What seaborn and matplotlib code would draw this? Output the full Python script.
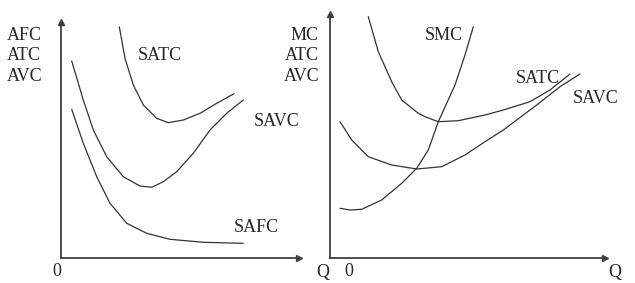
import numpy as np
import pandas as pd
import matplotlib
matplotlib.use("Agg")
import matplotlib.pyplot as plt
import seaborn as sns

# ---------------- data ----------------
# Left panel: short-run average cost curves
l_satc_q = [5.83, 6.4, 7.23, 8.23, 9.57, 10.73, 12.23, 13.9, 15.57, 17.3]
l_satc_c = [23.13, 19.97, 17.3, 15.3, 13.97, 13.53, 13.8, 14.47, 15.47, 16.43]
l_savc_q = [1.07, 2.23, 3.23, 4.57, 6.23, 7.9, 9.07, 10.23, 11.57, 13.23, 14.9, 16.57, 18.23]
l_savc_c = [19.7, 15.8, 12.8, 10.13, 8.13, 7.2, 7.07, 7.63, 8.63, 10.47, 12.8, 14.47, 15.8]
l_safc_q = [1.07, 2.23, 3.57, 4.9, 6.57, 8.57, 10.9, 14.23, 18.23]
l_safc_c = [14.87, 11.47, 8.13, 5.47, 3.47, 2.47, 1.87, 1.57, 1.47]

# Right panel: SMC, SATC, SAVC
r_smc_q = [1.0, 2.0, 3.17, 5.17, 7.17, 8.67, 9.83, 10.83, 11.5, 12.5, 13.5, 14.33]
r_smc_c = [4.97, 4.8, 4.87, 5.8, 7.47, 8.97, 10.8, 13.63, 15.1, 17.3, 20.3, 23.13]
r_satc_q = [3.83, 4.83, 6.17, 7.17, 8.83, 9.5, 10.83, 12.83, 15.5, 17.33, 20.0, 22.0, 24.0]
r_satc_c = [24.13, 20.63, 17.63, 15.8, 14.47, 14.13, 13.63, 13.73, 14.3, 14.8, 15.63, 16.8, 18.4]
r_savc_q = [1.0, 2.17, 3.83, 6.17, 8.67, 11.17, 13.5, 15.5, 17.33, 20.67, 23.0, 25.0]
r_savc_c = [13.63, 11.8, 10.13, 9.3, 8.9, 9.13, 10.3, 11.63, 12.8, 15.3, 17.13, 18.4]

left_ylabels = ["AFC", "ATC", "AVC"]
right_ylabels = ["MC", "ATC", "AVC"]

# ---------------- style ----------------
sns.set_theme(style="white")
plt.rcParams["font.family"] = ["Liberation Serif", "DejaVu Serif"]
FS = 13
CURVE = "#333333"
AXC = "#404040"

W, H = 635, 283
fig = plt.figure(figsize=(W / 100, H / 100), dpi=100)
fig.patch.set_facecolor("white")


def px_axes(x0, y0, x1, y1):
    # y0 top pixel, y1 bottom pixel
    return fig.add_axes([x0 / W, (H - y1) / H, (x1 - x0) / W, (y1 - y0) / H])


def style_axes(ax, xmax, ymax):
    ax.set_xlim(0, xmax)
    ax.set_ylim(0, ymax)
    ax.set_facecolor("none")
    for s in ["top", "right"]:
        ax.spines[s].set_visible(False)
    for s in ["left", "bottom"]:
        ax.spines[s].set_color(AXC)
        ax.spines[s].set_linewidth(1.3)
    ax.set_xticks([])
    ax.set_yticks([])
    ax.set_xlabel("")
    ax.set_ylabel("")
    ax.plot(1, 0, ">", color=AXC, markersize=5, transform=ax.get_yaxis_transform(), clip_on=False)
    ax.plot(0, 1, "^", color=AXC, markersize=5, transform=ax.get_xaxis_transform(), clip_on=False)


def curve(ax, q, c):
    df = pd.DataFrame({"Q": q, "C": c})
    sns.lineplot(data=df, x="Q", y="C", ax=ax, sort=False, estimator=None,
                 color=CURVE, linewidth=0.9)


# Left panel
axL = px_axes(61, 22, 299, 258)
curve(axL, l_satc_q, l_satc_c)
curve(axL, l_savc_q, l_savc_c)
curve(axL, l_safc_q, l_safc_c)
style_axes(axL, 23.8, 23.6)
axL.text(9.9, 20.2, "SATC", fontsize=FS, ha="center", va="center")
axL.text(21.6, 13.7, "SAVC", fontsize=FS, ha="center", va="center")
axL.text(19.5, 3.0, "SAFC", fontsize=FS, ha="center", va="center")

# Right panel
axR = px_axes(330, 14, 605, 258)
curve(axR, r_smc_q, r_smc_c)
curve(axR, r_satc_q, r_satc_c)
curve(axR, r_savc_q, r_savc_c)
style_axes(axR, 27.5, 24.4)
axR.text(11.4, 22.2, "SMC", fontsize=FS, ha="center", va="center")
axR.text(20.8, 17.9, "SATC", fontsize=FS, ha="center", va="center")
axR.text(26.6, 15.9, "SAVC", fontsize=FS, ha="center", va="center")


def ftext(x, y, s, ha="center"):
    fig.text(x / W, 1 - y / H, s, fontsize=FS, ha=ha, va="center")


for i, s in enumerate(left_ylabels):
    ftext(7, 35 + 21 * i, s, ha="left")
for i, s in enumerate(right_ylabels):
    ftext(319, 35 + 21 * i, s, ha="right")

ftext(57, 272, "0")
ftext(323, 272, "Q")
ftext(349, 272, "0")
ftext(615, 272, "Q")

fig.savefig("out.png", dpi=100, facecolor="white")
